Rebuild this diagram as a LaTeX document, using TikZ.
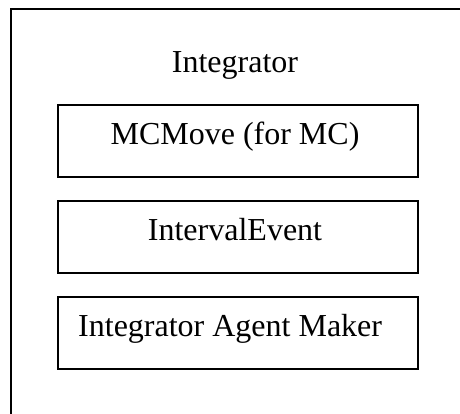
\documentclass[tikz,border=0pt]{standalone}
\usepackage{fontspec}
\setmainfont{Liberation Serif}
\begin{document}
\begin{tikzpicture}[x=1pt,y=-1pt,
  box/.style={draw=black,line width=1.5pt,rectangle,minimum width=360pt,minimum height=72pt,inner sep=0pt,anchor=north west},
  lbl/.style={font=\fontsize{32}{38}\selectfont,inner sep=0pt,anchor=base}]
\useasboundingbox (0,0) rectangle (460,413);
\clip (0,0) rectangle (460,413);
\fill[white] (0,0) rectangle (460,413);
\node[draw=black,line width=2pt,rectangle,minimum width=480pt,minimum height=430pt,anchor=north west,inner sep=0pt] (outer) at (9.5,8) {};
\node[lbl] (title) at (235,72.3) {Integrator};
\node[box] (mc) at (57,104) {};
\node[box] (ie) at (57,200) {};
\node[box] (iam) at (57,296) {};
\node[lbl] (mct) at (235,144) {MCMove (for MC)};
\node[lbl] (iet) at (235,240.3) {IntervalEvent};
\node[lbl,anchor=base west] (iamt) at (78,336.5) {Integrator Agent Maker};
\end{tikzpicture}
\end{document}
